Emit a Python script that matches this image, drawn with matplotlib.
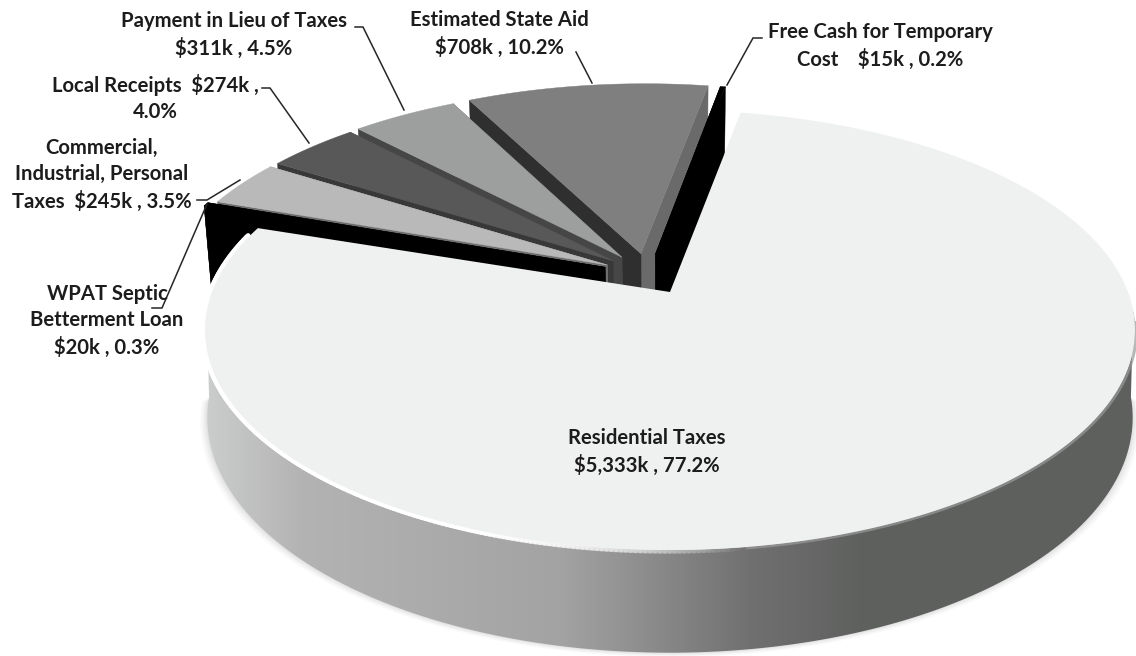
import numpy as np
import matplotlib
matplotlib.use('Agg')
import matplotlib.pyplot as plt
from matplotlib.collections import LineCollection
from matplotlib.colors import LinearSegmentedColormap
from matplotlib.patches import Polygon

# revenue by source, in $k, clockwise starting from the big slice
names = ['Residential Taxes', 'WPAT Septic Betterment Loan', 'Commercial, Industrial, Personal Taxes',
         'Local Receipts', 'Payment in Lieu of Taxes', 'Estimated State Aid', 'Free Cash for Temporary Cost']
values = [5333, 20, 245, 274, 311, 708, 15]
first_angle = 10.4

top_colors = ['#eff1f0', '#000000', '#b8b9b8', '#585858', '#9d9f9e', '#7f7f7f', '#000000']
left_wall = ['#eff1f0', '#000000', '#6e6e6e', '#383838', '#464646', '#2f2f2f', '#000000']
right_wall = ['#eff1f0', '#000000', '#8a8a8a', '#4a4a4a', '#555555', '#6a6a6a', '#000000']
radius = [1.0, 1.0, 0.982, 0.98, 0.983, 0.989, 0.985]

labels = ['Residential Taxes\n$5,333k , 77.2%',
          'WPAT Septic\nBetterment Loan\n$20k , 0.3%',
          'Commercial,\nIndustrial, Personal\nTaxes  $245k , 3.5%',
          'Local Receipts  $274k ,\n4.0%',
          'Payment in Lieu of Taxes\n$311k , 4.5%',
          'Estimated State Aid\n$708k , 10.2%',
          'Free Cash for Temporary\nCost    $15k , 0.2%']
label_x = [647, 107, 102, 155, 234, 499, 880]
label_y = [452, 321, 175, 98, 35, 34, 46]

# leader lines, one for each label outside the pie
leaders = [[(152, 308), (162, 308), (207, 204)],
           [(197, 200), (207, 200), (240, 180)],
           [(262, 88), (270, 88), (309, 143)],
           [(355, 27), (363, 27), (404, 110)],
           [(576, 52), (592, 83)],
           [(762, 38), (753, 38), (727, 85)]]

# shading of the outer wall, left to right
wall_x = [205, 300, 560, 650, 750, 865, 1136]
wall_shade = ['#cbcdcc', '#b3b3b3', '#a3a3a3', '#8c8c8c', '#707070', '#5e605e', '#5e605e']

# perspective of the pie plane
cx, cy = 670, 292
sx, sy, k = 458, 213.4, 0.1727
depth = 85
explode = 0.1
shift = np.array([-0.05, 0.086])


def project(u, v):
    w = 1 + k * v
    return cx + sx * u / w, cy - sy * v / w


def lower(x, y, v, shrink=0.985):
    return cx + (x - cx) * shrink, y + depth / (1 + k * v)


def rim(a0, a1, r, off):
    t = np.radians(np.linspace(a0, a1, max(int(abs(a1 - a0) * 2), 2)))
    u = off[0] + r * np.sin(t)
    v = off[1] + r * np.cos(t)
    return u, v


def wall(ax, a, r, off, color, z):
    # flat side running from the tip to the outer edge
    t = np.radians(a)
    u = np.array([off[0], off[0] + r * np.sin(t)])
    v = np.array([off[1], off[1] + r * np.cos(t)])
    x, y = project(u, v)
    xl, yl = lower(x, y, v)
    ax.add_patch(Polygon(np.c_[np.r_[x, xl[::-1]], np.r_[y, yl[::-1]]], fc=color, ec=color, lw=0.3, zorder=z))


fig = plt.figure(figsize=(11.36, 6.56), dpi=100)
ax = fig.add_axes([0, 0, 1, 1])

sweep = np.array(values) / sum(values) * 360
starts = first_angle + np.r_[0, np.cumsum(sweep)[:-1]]
ends = starts + sweep
mids = (starts + ends) / 2
offsets = [shift + explode * np.array([np.sin(np.radians(m)), np.cos(np.radians(m))]) for m in mids]
offsets[0] = np.array([0.0, 0.0])

# soft shadow below the pie
u, v = rim(95, 265, 1.0, offsets[0])
x, y = project(u, v)
xl, yl = lower(x, y, v, 0.995)
for grow in [7, 5, 3.5, 2, 1]:
    ax.add_patch(Polygon(np.c_[cx + (xl - cx) * (1 + grow / 460), yl + grow * 0.6], fc='#000000', ec='none', alpha=0.025, zorder=1))

# outer wall of the big slice with its left to right shading
side = Polygon(np.c_[np.r_[x, xl[::-1]], np.r_[y, yl[::-1]]], fc='none', ec='none', zorder=2)
ax.add_patch(side)
span = np.array(wall_x, dtype=float)
cmap = LinearSegmentedColormap.from_list('wall', list(zip((span - span[0]) / (span[-1] - span[0]), wall_shade)))
img = ax.imshow(np.linspace(0, 1, 512).reshape(1, -1), cmap=cmap, extent=[span[0], span[-1], 656, 0], aspect='auto', zorder=2)
img.set_clip_path(side)

# small slices, back ones first so that nearer tops hide their walls
for n, i in enumerate([5, 6, 4, 3, 2, 1]):
    off, r = offsets[i], radius[i]
    z = 3 + n * 0.1
    wall(ax, ends[i], r, off, right_wall[i], z)
    wall(ax, starts[i], r, off, left_wall[i], z + 0.01)
    u, v = rim(starts[i], ends[i], r, off)
    x, y = project(u, v)
    if i == 1:
        # the thin black slice shows its outer wall on the left
        xl, yl = lower(x, y, v)
        ax.add_patch(Polygon(np.c_[np.r_[x, xl[::-1]], np.r_[y, yl[::-1]]], fc='#000000', ec='#000000', lw=0.3, zorder=z + 0.01))
    px, py = project(off[0], off[1])
    ax.add_patch(Polygon(np.c_[np.r_[px, x], np.r_[py, y]], fc=top_colors[i], ec=top_colors[i], lw=0.3, zorder=z + 0.02))

# bright bevel on the left of the rim, darker on the right
u, v = rim(286, 172, 1.004, offsets[0])
x, y = project(u, v)
pts = np.c_[x, y]
segs = np.stack([pts[:-1], pts[1:]], axis=1)
fade = np.r_[np.ones(len(segs) - 60), np.linspace(1, 0, 60)]
ax.add_collection(LineCollection(segs, colors=[(1, 1, 1, f) for f in fade], linewidths=3.6, zorder=4, capstyle='round'))
u, v = rim(172, 98, 1.003, offsets[0])
x, y = project(u, v)
ax.plot(x, y, color='#9a9a9a', lw=2.2, alpha=0.7, zorder=4)

# top of the big slice
u, v = rim(starts[0], ends[0], radius[0], offsets[0])
x, y = project(u, v)
ax.add_patch(Polygon(np.c_[np.r_[cx, x], np.r_[cy, y]], fc=top_colors[0], ec='none', zorder=5))

for pts in leaders:
    p = np.array(pts)
    ax.plot(p[:, 0], p[:, 1], color='#262626', lw=1.1, zorder=6, solid_joinstyle='miter')

for t, lx, ly in zip(labels, label_x, label_y):
    ax.text(lx, ly, t, ha='center', va='center', family='Lato', weight='bold', fontsize=14.6,
            color='#1c1c1c', linespacing=1.4, zorder=7)

ax.set_xlim(0, 1136)
ax.set_ylim(656, 0)
ax.axis('off')
fig.savefig('out.png', dpi=100)
